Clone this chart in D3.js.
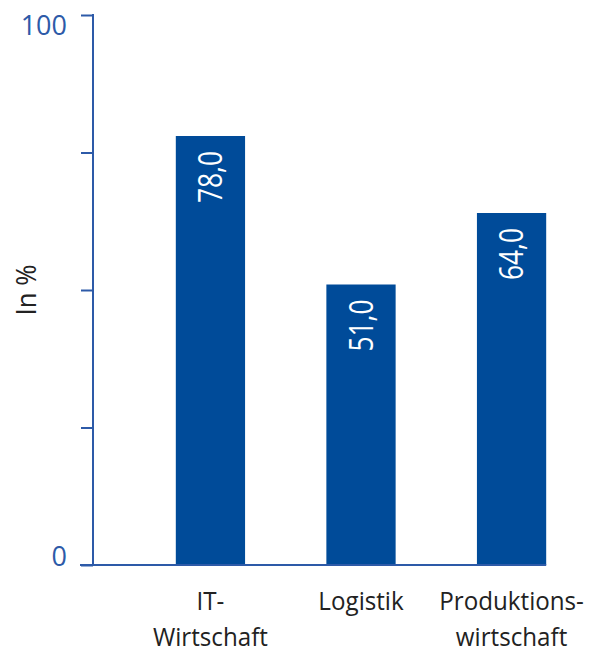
<!DOCTYPE html>
<html>
<head>
<meta charset="utf-8">
<script src="https://cdn.jsdelivr.net/npm/d3@7"></script>
<style>
  body { margin: 0; background: #fff; }
  text { font-family: "Open Sans", sans-serif; }
</style>
</head>
<body>
<div id="chart"></div>
<script>
//// ============ DATA ============ ////
var categories = [["IT-", "Wirtschaft"], ["Logistik"], ["Produktions-", "wirtschaft"]];
var values = [78.0, 51.0, 64.0];
var yTicks = [0, 25, 50, 75, 100];
var yTickLabels = ["0", "", "", "", "100"];

//// ============ LAYOUT ============ ////
var width = 590, height = 648;
var axisX = 93, plotTop = 15, plotBottom = 565;
var barColor = "#004b99", axisColor = "#2d5aa8";

var svg = d3.select("#chart").append("svg")
    .attr("width", width)
    .attr("height", height);

var keys = categories.map(function(d) { return d.join(""); });

var x = d3.scaleBand()
    .domain(keys)
    .range([axisX, 629])
    .paddingInner(0.54)
    .paddingOuter(0.55);

var y = d3.scaleLinear()
    .domain([0, 100])
    .range([plotBottom, plotTop]);

//// ============ BARS ============ ////
svg.selectAll("rect.bar")
    .data(values)
    .enter().append("rect")
    .attr("class", "bar")
    .attr("x", function(d, i) { return x(keys[i]); })
    .attr("y", function(d) { return y(d); })
    .attr("width", x.bandwidth())
    .attr("height", function(d) { return y(0) - y(d); })
    .style("fill", barColor);

// value labels, rotated inside the bars (squeezed a bit, the original font is narrow)
svg.selectAll("text.val")
    .data(values)
    .enter().append("text")
    .attr("class", "val")
    .attr("transform", function(d, i) {
        var cx = x(keys[i]) + x.bandwidth() / 2;
        return "translate(" + cx + "," + (y(d) + 15) + ") rotate(-90) scale(0.8,1)";
    })
    .attr("dy", "0.36em")
    .style("text-anchor", "end")
    .style("fill", "#fff")
    .style("font-size", "33px")
    .text(function(d) { return d.toFixed(1).replace(".", ","); });

//// ============ AXES ============ ////
var yAxis = svg.append("g")
    .attr("transform", "translate(" + axisX + ",0)")
    .call(d3.axisLeft(y).tickValues(yTicks).tickSize(12).tickPadding(14)
        .tickFormat(function(d, i) { return yTickLabels[i]; }));

yAxis.select(".domain").remove();
yAxis.append("line")
    .attr("x1", 0).attr("x2", 0)
    .attr("y1", plotTop - 1).attr("y2", plotBottom)
    .style("stroke", axisColor).style("stroke-width", 2);
yAxis.selectAll(".tick line").style("stroke", axisColor).style("stroke-width", 2);
yAxis.selectAll(".tick text")
    .style("fill", axisColor)
    .style("font-size", "27px")
    .style("font-family", "'Open Sans', sans-serif")
    .attr("dy", function(d) { return d === 100 ? "0.72em" : "0"; });

// baseline
svg.append("line")
    .attr("x1", axisX - 13)
    .attr("x2", x(keys[keys.length - 1]) + x.bandwidth())
    .attr("y1", y(0)).attr("y2", y(0))
    .style("stroke", axisColor).style("stroke-width", 2);

// category labels
var cat = svg.selectAll("g.cat")
    .data(categories)
    .enter().append("g")
    .attr("class", "cat")
    .attr("transform", function(d, i) {
        return "translate(" + (x(keys[i]) + x.bandwidth() / 2) + ",610) scale(0.93,1)";
    })
    .append("text")
    .style("text-anchor", "middle")
    .style("fill", "#222")
    .style("font-size", "26px");

cat.selectAll("tspan")
    .data(function(d) { return d; })
    .enter().append("tspan")
    .attr("x", 0)
    .attr("dy", function(d, i) { return i ? 36 : 0; })
    .text(function(d) { return d; });

// y axis title
svg.append("text")
    .attr("transform", "translate(36,290) rotate(-90) scale(0.92,1)")
    .style("text-anchor", "middle")
    .style("fill", "#222")
    .style("font-size", "28px")
    .text("In %");
</script>
</body>
</html>
